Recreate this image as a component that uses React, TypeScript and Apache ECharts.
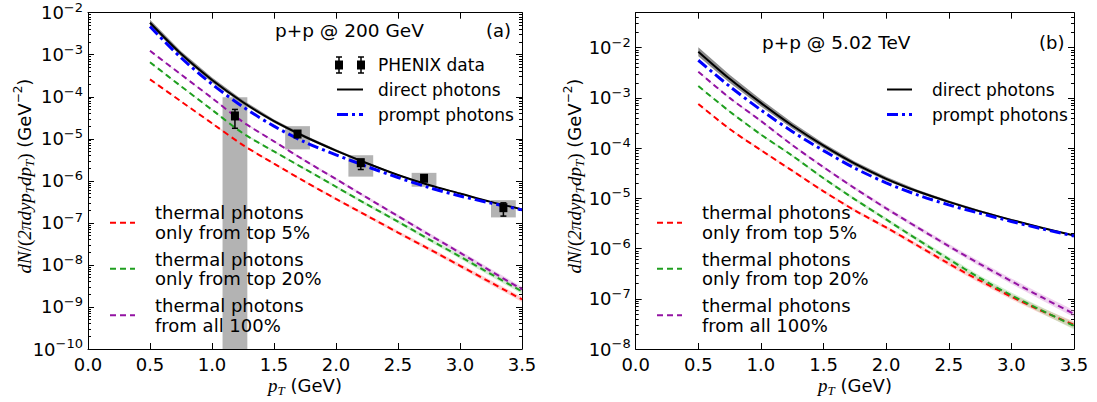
import React, { useEffect, useRef } from 'react';
import * as echarts from 'echarts';

const FONT = '"DejaVu Sans", sans-serif';
const MATH = '"Liberation Serif", "DejaVu Serif", serif';

// transverse momentum grid (GeV)
const pT = [0.5, 0.75, 1.0, 1.25, 1.5, 1.75, 2.0, 2.25, 2.5, 2.75, 3.0, 3.25, 3.5];

// ---- panel (a): p+p @ 200 GeV ----
const directA = [5.75e-3, 1.05e-3, 2.51e-4, 7.41e-5, 2.63e-5, 1.12e-5, 5.25e-6, 2.63e-6, 1.38e-6, 7.94e-7, 5.01e-7, 3.16e-7, 2.09e-7];
const promptA = [4.68e-3, 8.51e-4, 2.0e-4, 5.75e-5, 2.0e-5, 8.32e-6, 4.17e-6, 2.19e-6, 1.2e-6, 6.92e-7, 4.37e-7, 2.95e-7, 2.04e-7];
const thermal100A = [1.24e-3, 3.39e-4, 9.33e-5, 2.51e-5, 8.71e-6, 3.02e-6, 1.1e-6, 3.98e-7, 1.45e-7, 5.25e-8, 1.95e-8, 7.08e-9, 2.63e-9];
const thermal20A = [6.61e-4, 1.78e-4, 4.9e-5, 1.35e-5, 5.01e-6, 1.91e-6, 7.24e-7, 2.75e-7, 1.07e-7, 4.07e-8, 1.58e-8, 6.03e-9, 2.34e-9];
const thermal5A = [2.6e-4, 7.76e-5, 2.34e-5, 7.08e-6, 2.57e-6, 9.55e-7, 3.72e-7, 1.48e-7, 5.89e-8, 2.4e-8, 9.55e-9, 3.8e-9, 1.51e-9];
// band half-widths (decades)
const directBandA = [0.07, 0.06, 0.06, 0.05, 0.04, 0.035, 0.03, 0.025, 0.02, 0.015, 0.015, 0.01, 0.01];
const thermalBandA = [0.01, 0.01, 0.015, 0.02, 0.02, 0.025, 0.03, 0.035, 0.04, 0.045, 0.05, 0.055, 0.06];

// PHENIX data
const phenixPt = [1.185, 1.69, 2.2, 2.71, 3.35];
const phenixY = [3.5e-5, 1.3e-5, 2.7e-6, 1.15e-6, 2.3e-7];
const phenixStatLo = [1.78e-5, 1.15e-5, 1.86e-6, 1.05e-6, 1.45e-7];
const phenixStatHi = [5.0e-5, 1.45e-5, 3.24e-6, 1.25e-6, 3.0e-7];
const phenixSysLo = [1e-10, 5.6e-6, 1.26e-6, 7.24e-7, 1.35e-7];
const phenixSysHi = [9.8e-5, 2.0e-5, 4.07e-6, 1.55e-6, 3.47e-7];
const phenixSysHalfW = [0.1, 0.1, 0.1, 0.1, 0.1];

// ---- panel (b): p+p @ 5.02 TeV ----
const directB = [8.32e-3, 2.4e-3, 7.94e-4, 2.82e-4, 1.12e-4, 4.9e-5, 2.45e-5, 1.38e-5, 8.51e-6, 5.5e-6, 3.72e-6, 2.57e-6, 1.82e-6];
const promptB = [5.62e-3, 1.7e-3, 5.75e-4, 2.14e-4, 8.91e-5, 3.98e-5, 2.04e-5, 1.17e-5, 7.41e-6, 5.01e-6, 3.47e-6, 2.45e-6, 1.78e-6];
const thermal100B = [3.31e-3, 1.0e-3, 3.47e-4, 1.15e-4, 4.17e-5, 1.58e-5, 6.31e-6, 2.63e-6, 1.12e-6, 4.9e-7, 2.24e-7, 1.05e-7, 5.01e-8];
const thermal20B = [1.72e-3, 5.37e-4, 1.86e-4, 7.08e-5, 2.51e-5, 9.55e-6, 3.8e-6, 1.51e-6, 6.17e-7, 2.57e-7, 1.17e-7, 5.75e-8, 2.88e-8];
const thermal5B = [7.59e-4, 2.4e-4, 9.12e-5, 3.55e-5, 1.38e-5, 5.75e-6, 2.63e-6, 1.15e-6, 5.01e-7, 2.29e-7, 1.1e-7, 5.62e-8, 3.02e-8];
const directBandB = [0.09, 0.08, 0.07, 0.06, 0.05, 0.045, 0.04, 0.03, 0.025, 0.02, 0.015, 0.015, 0.01];
const thermalBandB = [0.01, 0.015, 0.02, 0.02, 0.025, 0.03, 0.035, 0.04, 0.045, 0.05, 0.055, 0.06, 0.07];

// axis ranges
const xMin = 0, xMax = 3.5, xStep = 0.5;
const yMinA = 1e-10, yMaxA = 1e-2;
const yMinB = 1e-8, yMaxB = 0.0497;

const legendThermal = [
  ['thermal photons', 'only from top 5%'],
  ['thermal photons', 'only from top 20%'],
  ['thermal photons', 'from all 100%'],
];

const C_RED = '#ff0000';
const C_GREEN = '#1f9f1f';
const C_PURPLE = '#9313a3';
const C_BLUE = '#0000ff';

function minorTicks(lo: number, hi: number): number[] {
  const out: number[] = [];
  for (let e = Math.floor(Math.log10(lo)); e <= Math.ceil(Math.log10(hi)); e++) {
    for (let m = 2; m <= 9; m++) {
      const v = m * Math.pow(10, e);
      if (v > lo && v < hi) out.push(v);
    }
  }
  return out;
}

const yLabelFormatter = (v: number) => {
  const e = Math.log10(v);
  const r = Math.round(e);
  if (Math.abs(e - r) > 1e-6) return '';
  return `{b|10}{s|${r < 0 ? '\u2212' : ''}${Math.abs(r)}}`;
};

function xAxes(gi: number) {
  const common = {
    type: 'value', gridIndex: gi, min: xMin, max: xMax, interval: xStep,
    axisLine: { show: true, onZero: false, lineStyle: { color: '#000', width: 1 } },
    axisTick: { show: true, inside: true, length: 6, lineStyle: { color: '#000', width: 1 } },
    splitLine: { show: false },
  };
  return [
    {
      ...common, position: 'bottom',
      axisLabel: {
        show: true, margin: 6, color: '#000', fontSize: 18, fontFamily: FONT,
        showMinLabel: true, showMaxLabel: true,
        formatter: (v: number) => v.toFixed(1),
      },
    },
    { ...common, position: 'top', axisLabel: { show: false } },
  ];
}

function yAxes(gi: number, min: number, max: number) {
  const common = {
    type: 'log', logBase: 10, gridIndex: gi, min, max,
    splitLine: { show: false },
  };
  const minors = minorTicks(min, max);
  return [
    {
      ...common, position: 'left',
      axisLine: { show: true, lineStyle: { color: '#000', width: 1 } },
      axisTick: { show: true, inside: true, length: 6, lineStyle: { color: '#000' } },
      axisLabel: {
        show: true, margin: 5, color: '#000', formatter: yLabelFormatter,
        rich: {
          b: { fontSize: 18, fontFamily: FONT, color: '#000', lineHeight: 24 },
          s: { fontSize: 13, fontFamily: FONT, color: '#000', lineHeight: 18, verticalAlign: 'top' },
        },
      },
    },
    {
      ...common, position: 'left',
      axisLine: { show: false },
      axisTick: { show: true, inside: true, length: 3, customValues: minors, lineStyle: { color: '#000' } },
      axisLabel: { show: false },
    },
    {
      ...common, position: 'right',
      axisLine: { show: true, lineStyle: { color: '#000', width: 1 } },
      axisTick: { show: true, inside: true, length: 6, lineStyle: { color: '#000' } },
      axisLabel: { show: false },
    },
    {
      ...common, position: 'right',
      axisLine: { show: false },
      axisTick: { show: true, inside: true, length: 3, customValues: minors, lineStyle: { color: '#000' } },
      axisLabel: { show: false },
    },
  ];
}

// uncertainty band drawn as one polygon through the axis scales (api.coord)
function bandSeries(name: string, vals: number[], w: number[], color: string, opacity: number, gi: number, z: number) {
  const lo = vals.map((v, i) => v * Math.pow(10, -w[i]));
  const hi = vals.map((v, i) => v * Math.pow(10, w[i]));
  return {
    type: 'custom', name, silent: true, z,
    xAxisIndex: gi * 2, yAxisIndex: gi * 4,
    data: [[pT[0], vals[0]]],
    encode: { x: 0, y: 1 },
    renderItem: (params: any, api: any) => {
      const pts: number[][] = [];
      for (let i = 0; i < pT.length; i++) pts.push(api.coord([pT[i], hi[i]]));
      for (let i = pT.length - 1; i >= 0; i--) pts.push(api.coord([pT[i], lo[i]]));
      return {
        type: 'polygon',
        shape: { points: pts },
        style: { fill: color, opacity, stroke: 'none' },
      };
    },
  };
}

function lineSeries(name: string, vals: number[], color: string, width: number, type: any, gi: number, z: number) {
  return {
    type: 'line', name, symbol: 'none', smooth: 0.3,
    xAxisIndex: gi * 2, yAxisIndex: gi * 4, z,
    data: vals.map((v, i) => [pT[i], v]),
    lineStyle: { color, width, type, cap: 'butt' },
  };
}

function panelSeries(gi: number, d: any) {
  return [
    bandSeries('direct band ' + gi, d.direct, d.directBand, '#707070', 0.8, gi, 2),
    bandSeries('t5 band ' + gi, d.t5, d.thermalBand, '#ff9090', 0.4, gi, 2),
    bandSeries('t20 band ' + gi, d.t20, d.thermalBand, '#90d890', 0.4, gi, 2),
    bandSeries('t100 band ' + gi, d.t100, d.thermalBand, '#d890d8', 0.4, gi, 2),
    lineSeries('thermal 5%', d.t5, C_RED, 2, [6, 4], gi, 3),
    lineSeries('thermal 20%', d.t20, C_GREEN, 2, [6, 4], gi, 3),
    lineSeries('thermal 100%', d.t100, C_PURPLE, 2, [6, 4], gi, 3),
    lineSeries('direct photons', d.direct, '#000000', 2, 'solid', gi, 4),
    lineSeries('prompt photons', d.prompt, C_BLUE, 3, [11, 4, 3, 4], gi, 5),
  ];
}

function txt(x: number, y: number, text: string, size: number) {
  return {
    type: 'text', x, y, silent: true, z: 100,
    style: { text, font: `${size}px ${FONT}`, fill: '#000', verticalAlign: 'middle', align: 'left' },
  };
}

function seg(x1: number, x2: number, y: number, color: string, width: number, dash: any) {
  return {
    type: 'line', silent: true, z: 100,
    shape: { x1, y1: y, x2, y2: y },
    style: { stroke: color, lineWidth: width, lineDash: dash, lineCap: 'butt' },
  };
}

function errSymbol(cx: number, cy: number) {
  return {
    type: 'group', silent: true, z: 100,
    children: [
      { type: 'line', shape: { x1: cx, y1: cy - 8, x2: cx, y2: cy + 8 }, style: { stroke: '#000', lineWidth: 1.5 } },
      { type: 'line', shape: { x1: cx - 3, y1: cy - 8, x2: cx + 3, y2: cy - 8 }, style: { stroke: '#000', lineWidth: 1.5 } },
      { type: 'line', shape: { x1: cx - 3, y1: cy + 8, x2: cx + 3, y2: cy + 8 }, style: { stroke: '#000', lineWidth: 1.5 } },
      { type: 'rect', shape: { x: cx - 4, y: cy - 4.5, width: 8, height: 9 }, style: { fill: '#000' } },
    ],
  };
}

const titleRich = {
  i: { fontFamily: MATH, fontStyle: 'italic', fontSize: 19, lineHeight: 24, color: '#000' },
  sub: { fontFamily: MATH, fontStyle: 'italic', fontSize: 13, lineHeight: 13, verticalAlign: 'bottom', color: '#000' },
  p: { fontFamily: MATH, fontSize: 19, lineHeight: 24, color: '#000' },
  n: { fontFamily: FONT, fontSize: 18, lineHeight: 24, color: '#000' },
  sup: { fontFamily: FONT, fontSize: 12, lineHeight: 15, verticalAlign: 'top', color: '#000' },
};

function yTitle(x: number, y: number) {
  return {
    type: 'text', x, y, rotation: Math.PI / 2, silent: true, z: 100,
    style: {
      text: '{i|dN}{p|/(}{i|2\u03c0dyp}{sub|T}{i|dp}{sub|T}{p|)}{n| (GeV}{sup|\u22122}{n|)}',
      rich: titleRich, align: 'center', verticalAlign: 'middle',
    },
  };
}

function xTitle(x: number, y: number) {
  return {
    type: 'text', x, y, silent: true, z: 100,
    style: {
      text: '{i|p}{sub|T}{n| (GeV)}',
      rich: titleRich, align: 'center', verticalAlign: 'middle',
    },
  };
}

export default function App() {
  const ref = useRef<HTMLDivElement>(null);
  useEffect(() => {
    if (!ref.current) return;
    const chart = echarts.init(ref.current, undefined, { renderer: 'svg' });

    const dataA = { direct: directA, prompt: promptA, t5: thermal5A, t20: thermal20A, t100: thermal100A, directBand: directBandA, thermalBand: thermalBandA };
    const dataB = { direct: directB, prompt: promptB, t5: thermal5B, t20: thermal20B, t100: thermal100B, directBand: directBandB, thermalBand: thermalBandB };

    const sysData = phenixPt.map((x, i) => [x, phenixSysLo[i], phenixSysHi[i], phenixSysHalfW[i]]);
    const statData = phenixPt.map((x, i) => [x, phenixStatLo[i], phenixStatHi[i]]);

    const graphic: any[] = [
      txt(275, 30, 'p+p @ 200 GeV', 18.5),
      txt(486, 30, '(a)', 18),
      errSymbol(339, 65), errSymbol(361, 65),
      txt(378, 65, 'PHENIX data', 17),
      seg(337, 363, 89.5, '#000', 2, null),
      txt(378, 89.5, 'direct photons', 17),
      seg(337, 363, 114.5, C_BLUE, 3, [11, 4, 3, 4]),
      txt(378, 114.5, 'prompt photons', 17),
      txt(762, 42, 'p+p @ 5.02 TeV', 18.5),
      txt(1039, 42, '(b)', 18),
      seg(887, 912, 89.5, '#000', 2, null),
      txt(932, 89.5, 'direct photons', 17),
      seg(887, 912, 114.5, C_BLUE, 3, [11, 4, 3, 4]),
      txt(932, 114.5, 'prompt photons', 17),
      yTitle(24, 176),
      yTitle(574, 176),
      xTitle(305, 385),
      xTitle(855, 385),
    ];
    const thermalColors = [C_RED, C_GREEN, C_PURPLE];
    const rowsY = [[212.7, 232.7], [259, 278.7], [305.3, 325.3]];
    legendThermal.forEach((lines, k) => {
      const mid = (rowsY[k][0] + rowsY[k][1]) / 2;
      graphic.push(seg(110, 135, mid, thermalColors[k], 2, [6, 4]));
      graphic.push(txt(155, rowsY[k][0], lines[0], 18));
      graphic.push(txt(155, rowsY[k][1], lines[1], 18));
      graphic.push(seg(657, 682, mid, thermalColors[k], 2, [6, 4]));
      graphic.push(txt(702, rowsY[k][0], lines[0], 18));
      graphic.push(txt(702, rowsY[k][1], lines[1], 18));
    });

    const option: any = {
      animation: false,
      backgroundColor: '#ffffff',
      textStyle: { fontFamily: FONT },
      grid: [
        { left: 88, top: 12.7, width: 434, height: 336.3 },
        { left: 635.7, top: 12.7, width: 438.3, height: 336.3 },
      ],
      xAxis: [...xAxes(0), ...xAxes(1)],
      yAxis: [...yAxes(0, yMinA, yMaxA), ...yAxes(1, yMinB, yMaxB)],
      series: [
        {
          type: 'custom', name: 'PHENIX sys', xAxisIndex: 0, yAxisIndex: 0, z: 1, silent: true,
          data: sysData,
          encode: { x: 0, y: [1, 2] },
          renderItem: (params: any, api: any) => {
            const x = api.value(0), lo = api.value(1), hi = api.value(2), hw = api.value(3);
            const p1 = api.coord([x - hw, hi]);
            const p2 = api.coord([x + hw, lo]);
            return {
              type: 'rect',
              shape: { x: p1[0], y: p1[1], width: p2[0] - p1[0], height: p2[1] - p1[1] },
              style: { fill: '#b3b3b3' },
            };
          },
        },
        ...panelSeries(0, dataA),
        ...panelSeries(1, dataB),
        {
          type: 'custom', name: 'PHENIX stat', xAxisIndex: 0, yAxisIndex: 0, z: 6, silent: true,
          data: statData,
          encode: { x: 0, y: [1, 2] },
          renderItem: (params: any, api: any) => {
            const x = api.value(0);
            const pLo = api.coord([x, api.value(1)]);
            const pHi = api.coord([x, api.value(2)]);
            const st = { stroke: '#000', lineWidth: 1.5 };
            return {
              type: 'group',
              children: [
                { type: 'line', shape: { x1: pLo[0], y1: pLo[1], x2: pHi[0], y2: pHi[1] }, style: st },
                { type: 'line', shape: { x1: pLo[0] - 3, y1: pLo[1], x2: pLo[0] + 3, y2: pLo[1] }, style: st },
                { type: 'line', shape: { x1: pHi[0] - 3, y1: pHi[1], x2: pHi[0] + 3, y2: pHi[1] }, style: st },
              ],
            };
          },
        },
        {
          type: 'scatter', name: 'PHENIX data', xAxisIndex: 0, yAxisIndex: 0, z: 7,
          symbol: 'rect', symbolSize: [8, 9],
          itemStyle: { color: '#000', opacity: 1 },
          data: phenixPt.map((x, i) => [x, phenixY[i]]),
        },
      ],
      graphic,
    };
    chart.setOption(option);
    return () => chart.dispose();
  }, []);
  return <div ref={ref} style={{ position: 'fixed', left: 0, top: 0, width: 1097, height: 402, background: '#fff' }} />;
}
